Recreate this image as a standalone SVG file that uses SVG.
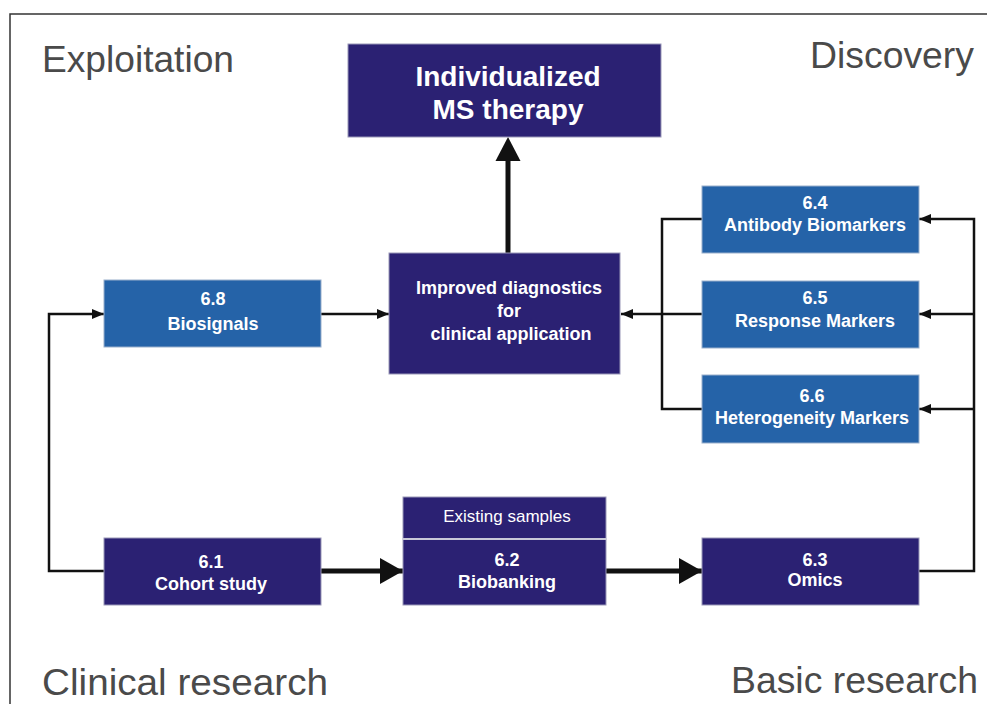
<svg xmlns="http://www.w3.org/2000/svg" width="987" height="704" viewBox="0 0 987 704">
<defs>
<style>
.navy{fill:#2b2173;stroke:#9a98b8;stroke-width:1}
.blue{fill:#2563a8;stroke:#9ab0cc;stroke-width:1}
.t{font-family:"Liberation Sans",Arial,sans-serif;font-weight:bold;fill:#fff;text-anchor:middle;font-size:18px}
.h{font-family:"Liberation Sans",Arial,sans-serif;fill:#4a4a4a;font-size:37px}
.thin{fill:none;stroke:#111;stroke-width:2.5}
.thick{fill:none;stroke:#111;stroke-width:5}
</style>
<marker id="a" viewBox="0 0 12 10" refX="12" refY="5" markerWidth="12" markerHeight="10" markerUnits="userSpaceOnUse" orient="auto"><path d="M0,0 L12,5 L0,10 z" fill="#111"/></marker>
<marker id="A" viewBox="0 0 23 26" refX="23" refY="13" markerWidth="23" markerHeight="26" markerUnits="userSpaceOnUse" orient="auto"><path d="M0,0 L23,13 L0,26 z" fill="#111"/></marker>
</defs>
<rect width="987" height="704" fill="#fff"/>
<path d="M10,704 V14 H987" fill="none" stroke="#333" stroke-width="1.5"/>
<text class="h" x="42" y="72" textLength="192" lengthAdjust="spacingAndGlyphs">Exploitation</text>
<text class="h" x="810" y="68" textLength="164" lengthAdjust="spacingAndGlyphs">Discovery</text>
<text class="h" x="42" y="695" textLength="286" lengthAdjust="spacingAndGlyphs">Clinical research</text>
<text class="h" x="731" y="693" textLength="247" lengthAdjust="spacingAndGlyphs">Basic research</text>
<g id="connectors">
<path class="thick" d="M508,253 V160" />
<path d="M495.5,161 L508,137 L520.5,161 z" fill="#111"/>
<path class="thin" d="M321,314 H389" marker-end="url(#a)"/>
<path class="thin" d="M104,571 H49 V314 H104" marker-end="url(#a)"/>
<path class="thin" d="M702,219 H662 V409 H702"/>
<path class="thin" d="M702,314 H621" marker-end="url(#a)"/>
<path class="thin" d="M919,571 H974 V219 H919" marker-end="url(#a)"/>
<path class="thin" d="M974,314 H919" marker-end="url(#a)"/>
<path class="thin" d="M974,409 H919" marker-end="url(#a)"/>
<path class="thick" d="M321,571 H403" marker-end="url(#A)"/>
<path class="thick" d="M606,571 H702" marker-end="url(#A)"/>
</g>
<g id="therapy">
<rect class="navy" x="348" y="44" width="313" height="93"/>
<text class="t" x="508" y="86" style="font-size:28px">Individualized</text>
<text class="t" x="508" y="119" style="font-size:28px">MS therapy</text>
</g>
<g id="diagnostics">
<rect class="navy" x="389" y="253" width="231" height="121"/>
<text class="t" x="509" y="294">Improved diagnostics</text>
<text class="t" x="509" y="317">for</text>
<text class="t" x="511" y="340">clinical application</text>
</g>
<g id="n68">
<rect class="blue" x="104" y="280" width="217" height="67"/>
<text class="t" x="213" y="305">6.8</text>
<text class="t" x="213" y="330">Biosignals</text>
</g>
<g id="n64">
<rect class="blue" x="702" y="186" width="217" height="67"/>
<text class="t" x="815" y="209">6.4</text>
<text class="t" x="815" y="231">Antibody Biomarkers</text>
</g>
<g id="n65">
<rect class="blue" x="702" y="281" width="217" height="67"/>
<text class="t" x="815" y="304">6.5</text>
<text class="t" x="815" y="327">Response Markers</text>
</g>
<g id="n66">
<rect class="blue" x="702" y="375" width="217" height="68"/>
<text class="t" x="812" y="402">6.6</text>
<text class="t" x="812" y="424">Heterogeneity Markers</text>
</g>
<g id="n61">
<rect class="navy" x="104" y="538" width="217" height="67"/>
<text class="t" x="211" y="568">6.1</text>
<text class="t" x="211" y="590">Cohort study</text>
</g>
<g id="n62">
<rect class="navy" x="403" y="497" width="203" height="108"/>
<line x1="403" y1="539" x2="606" y2="539" stroke="#c8c8d8" stroke-width="2"/>
<text x="507" y="522" style="font-family:'Liberation Sans',Arial,sans-serif;font-size:17px;fill:#fff;text-anchor:middle">Existing samples</text>
<text class="t" x="507" y="566">6.2</text>
<text class="t" x="507" y="588">Biobanking</text>
</g>
<g id="n63">
<rect class="navy" x="702" y="538" width="217" height="67"/>
<text class="t" x="815" y="566">6.3</text>
<text class="t" x="815" y="586">Omics</text>
</g>
</svg>
